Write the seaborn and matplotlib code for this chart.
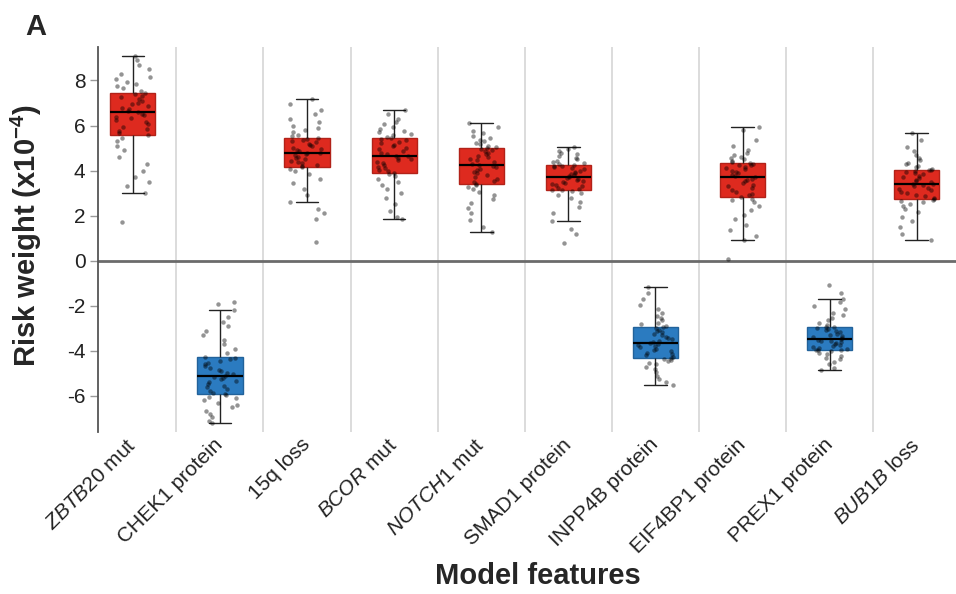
import numpy as np
import pandas as pd
import matplotlib.pyplot as plt
import seaborn as sns

features = ['ZBTB20 mut', 'CHEK1 protein', '15q loss', 'BCOR mut', 'NOTCH1 mut',
            'SMAD1 protein', 'INPP4B protein', 'EIF4BP1 protein', 'PREX1 protein', 'BUB1B loss']
tick_labels = [r'$\mathit{ZBTB20}$ mut', 'CHEK1 protein', '15q loss', r'$\mathit{BCOR}$ mut',
               r'$\mathit{NOTCH1}$ mut', 'SMAD1 protein', 'INPP4B protein', 'EIF4BP1 protein',
               'PREX1 protein', r'$\mathit{BUB1B}$ loss']

# risk weights (x1e-4), per feature
zbtb20 = [1.73, 2.99, 3.3, 3.5, 3.7, 4.0, 4.3, 4.6, 4.9, 5.1, 5.3, 5.45,
          5.57, 5.65, 5.75, 5.85, 5.95, 6.05, 6.15, 6.25, 6.32, 6.4, 6.47, 6.53,
          6.58, 6.65, 6.72, 6.8, 6.88, 6.95, 7.02, 7.1, 7.18, 7.25, 7.32, 7.4,
          7.45, 7.55, 7.65, 7.75, 7.85, 7.95, 8.05, 8.15, 8.3, 8.5, 8.7, 8.9, 9.08]
chek1 = [-7.2, -7.1, -6.95, -6.8, -6.65, -6.5, -6.4, -6.3, -6.2, -6.1, -6.03, -5.97,
         -5.92, -5.85, -5.78, -5.7, -5.62, -5.55, -5.48, -5.4, -5.33, -5.26, -5.2, -5.15,
         -5.1, -5.03, -4.96, -4.9, -4.83, -4.76, -4.68, -4.6, -4.52, -4.44, -4.37, -4.31,
         -4.26, -4.1, -3.9, -3.7, -3.5, -3.3, -3.1, -2.9, -2.7, -2.5, -2.2, -1.9, -1.82]
loss15q = [0.82, 1.87, 2.1, 2.3, 2.6, 2.9, 3.2, 3.45, 3.65, 3.85, 3.98, 4.08,
           4.15, 4.2, 4.26, 4.32, 4.38, 4.44, 4.5, 4.56, 4.62, 4.68, 4.72, 4.76,
           4.8, 4.85, 4.9, 4.96, 5.02, 5.08, 5.14, 5.2, 5.26, 5.32, 5.37, 5.41,
           5.45, 5.52, 5.6, 5.7, 5.8, 5.9, 6.0, 6.15, 6.3, 6.5, 6.7, 6.95, 7.19]
bcor = [1.84, 1.95, 2.2, 2.5, 2.8, 3.0, 3.2, 3.35, 3.5, 3.65, 3.75, 3.83,
        3.9, 3.97, 4.04, 4.11, 4.18, 4.25, 4.32, 4.39, 4.46, 4.53, 4.58, 4.63,
        4.67, 4.73, 4.8, 4.87, 4.94, 5.01, 5.08, 5.15, 5.22, 5.29, 5.35, 5.4,
        5.45, 5.5, 5.56, 5.62, 5.7, 5.78, 5.86, 5.95, 6.05, 6.15, 6.3, 6.5, 6.67]
notch1 = [1.27, 1.5, 1.8, 2.1, 2.35, 2.55, 2.75, 2.9, 3.05, 3.18, 3.27, 3.34,
          3.4, 3.48, 3.56, 3.64, 3.72, 3.8, 3.88, 3.95, 4.02, 4.09, 4.15, 4.2,
          4.24, 4.31, 4.38, 4.45, 4.52, 4.59, 4.66, 4.73, 4.8, 4.87, 4.92, 4.96,
          5.0, 5.05, 5.1, 5.16, 5.22, 5.3, 5.38, 5.46, 5.55, 5.65, 5.78, 5.92, 6.1]
smad1 = [0.79, 1.2, 1.42, 1.78, 2.1, 2.4, 2.6, 2.8, 2.92, 3.02, 3.08, 3.12,
         3.15, 3.2, 3.25, 3.3, 3.35, 3.4, 3.45, 3.5, 3.55, 3.6, 3.64, 3.67,
         3.7, 3.75, 3.8, 3.85, 3.9, 3.95, 4.0, 4.05, 4.1, 4.15, 4.19, 4.22,
         4.25, 4.29, 4.33, 4.38, 4.43, 4.5, 4.57, 4.64, 4.72, 4.8, 4.88, 4.98, 5.07]
inpp4b = [-5.52, -5.4, -5.25, -5.1, -4.95, -4.82, -4.7, -4.6, -4.52, -4.45, -4.4, -4.36,
          -4.32, -4.26, -4.2, -4.14, -4.08, -4.02, -3.96, -3.9, -3.84, -3.78, -3.74, -3.7,
          -3.67, -3.61, -3.55, -3.49, -3.43, -3.37, -3.3, -3.24, -3.18, -3.12, -3.06, -3.0,
          -2.96, -2.9, -2.82, -2.74, -2.65, -2.55, -2.45, -2.3, -2.15, -1.95, -1.7, -1.45, -1.18]
eif4bp1 = [0.08, 0.92, 1.1, 1.35, 1.6, 1.85, 2.05, 2.25, 2.45, 2.6, 2.7, 2.76,
           2.81, 2.9, 2.98, 3.06, 3.14, 3.22, 3.3, 3.38, 3.46, 3.54, 3.6, 3.65,
           3.7, 3.76, 3.82, 3.88, 3.94, 4.0, 4.06, 4.12, 4.18, 4.23, 4.27, 4.3,
           4.33, 4.38, 4.44, 4.5, 4.56, 4.62, 4.7, 4.8, 4.92, 5.1, 5.35, 5.8, 5.93]
prex1 = [-4.87, -4.75, -4.6, -4.48, -4.38, -4.3, -4.22, -4.15, -4.08, -4.02, -3.98, -3.96,
         -3.94, -3.9, -3.86, -3.82, -3.78, -3.74, -3.7, -3.66, -3.62, -3.58, -3.54, -3.51,
         -3.48, -3.43, -3.38, -3.33, -3.28, -3.23, -3.18, -3.13, -3.08, -3.03, -2.99, -2.95,
         -2.92, -2.85, -2.75, -2.65, -2.55, -2.42, -2.3, -2.15, -2.0, -1.85, -1.7, -1.45, -1.08]
bub1b = [0.92, 1.2, 1.5, 1.75, 1.95, 2.15, 2.3, 2.42, 2.52, 2.6, 2.66, 2.7,
         2.73, 2.8, 2.87, 2.94, 3.0, 3.06, 3.12, 3.18, 3.24, 3.3, 3.35, 3.39,
         3.42, 3.48, 3.54, 3.6, 3.66, 3.72, 3.78, 3.84, 3.89, 3.94, 3.98, 4.01,
         4.03, 4.08, 4.14, 4.2, 4.28, 4.36, 4.45, 4.55, 4.68, 4.85, 5.05, 5.35, 5.66]

values = [zbtb20, chek1, loss15q, bcor, notch1, smad1, inpp4b, eif4bp1, prex1, bub1b]
df = pd.concat([pd.DataFrame({'feature': f, 'weight': v}) for f, v in zip(features, values)],
               ignore_index=True)

red, blue = '#de2a1f', '#2b7bc0'
palette = {f: (red if np.median(v) > 0 else blue) for f, v in zip(features, values)}

sns.set_style('white')
plt.rcParams['font.family'] = ['Liberation Sans', 'DejaVu Sans']
plt.rcParams['mathtext.fontset'] = 'custom'
plt.rcParams['mathtext.rm'] = 'Liberation Sans'
plt.rcParams['mathtext.it'] = 'Liberation Sans:italic'
plt.rcParams['mathtext.bf'] = 'Liberation Sans:bold'
plt.rcParams['axes.unicode_minus'] = False

fig = plt.figure(figsize=(9.56, 5.94), dpi=100)
ax = fig.add_axes([0.1025, 0.2727, 0.8975, 0.6487])

for i in range(len(features) - 1):
    ax.axvline(i + 0.5, color='#d9d9d9', lw=1.3, zorder=0)
ax.axhline(0, color='#6b6b6b', lw=2, zorder=1)

sns.boxplot(data=df, x='feature', y='weight', hue='feature', order=features, palette=palette,
            width=0.52, whis=1.4, showfliers=False, saturation=1, linecolor='#222222',
            linewidth=1, legend=False, ax=ax,
            medianprops=dict(color='black', linewidth=1.6))
for p in ax.patches:
    r, g, b, a = p.get_facecolor()
    p.set_edgecolor((r * 0.8, g * 0.8, b * 0.8, 1))

sns.stripplot(data=df, x='feature', y='weight', order=features, color='black', size=3.2,
              alpha=0.42, jitter=0.2, ax=ax, zorder=3)

ax.set_xlim(-0.40, 9.45)
ax.set_ylim(-7.6, 9.5)
ax.set_yticks([-6, -4, -2, 0, 2, 4, 6, 8])
ax.set_xticks(range(len(features)))
ax.set_xticklabels(tick_labels, rotation=45, ha='right', va='center', rotation_mode='anchor')
for s in ['top', 'right', 'bottom']:
    ax.spines[s].set_visible(False)
ax.spines['left'].set_color('#555555')
ax.spines['left'].set_linewidth(1.3)
ax.tick_params(axis='y', length=6, width=1, color='#999999', labelsize=15,
               labelcolor='#222222', pad=3, left=True)
ax.tick_params(axis='x', length=0, labelsize=15, labelcolor='#222222', pad=7)

ax.set_ylabel(r'Risk weight (x10$^{\mathbf{-4}}$)', fontsize=21, fontweight='bold')
ax.yaxis.set_label_coords(-0.063, 0.511)
ax.set_xlabel('')
fig.text(538 / 956, 1 - 576 / 594, 'Model features', ha='center', va='center',
         fontsize=21, fontweight='bold')
fig.text(0.037, 1 - 27 / 594, 'A', ha='center', va='center', fontsize=21, fontweight='bold')

fig.savefig('out.png', dpi=100)
